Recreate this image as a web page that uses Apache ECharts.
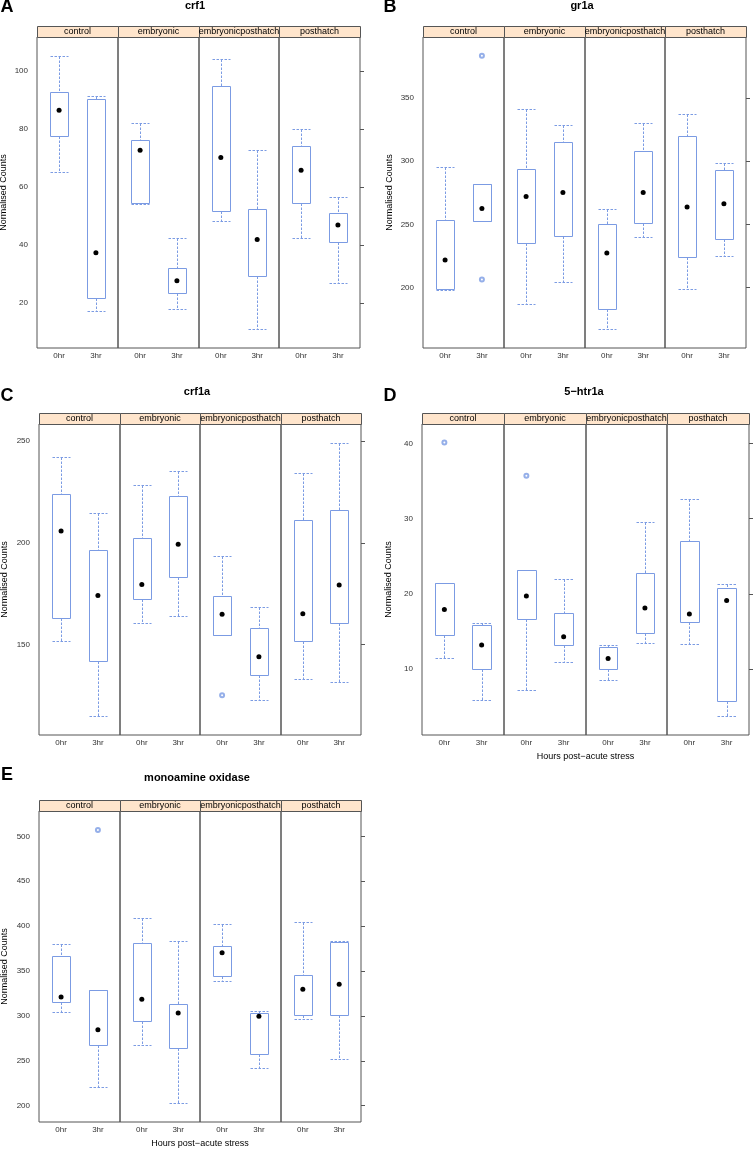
<!DOCTYPE html>
<html><head><meta charset="utf-8">
<script src="https://cdn.jsdelivr.net/npm/echarts@6/dist/echarts.min.js"></script>
<style>html,body{margin:0;padding:0;background:#fff}#c{width:754px;height:1150px}</style>
</head><body><div id="c"></div>
<script>
// ---------- data ----------
const groups = ['control', 'embryonic', 'embryonicposthatch', 'posthatch'];
const times = ['0hr', '3hr'];
// rows: [lower whisker, Q1, median, Q3, upper whisker]
// order: control 0hr, control 3hr, embryonic 0hr, embryonic 3hr,
//        embryonicposthatch 0hr, embryonicposthatch 3hr, posthatch 0hr, posthatch 3hr
const crf1 = [
  [65.0, 77.7, 86.4, 92.8, 105.1],
  [17.0, 21.6, 37.3, 90.4, 91.5],
  [54.0, 54.3, 72.6, 76.1, 81.9],
  [17.7, 23.3, 27.6, 31.9, 42.2],
  [48.3, 51.6, 70.1, 94.8, 104.0],
  [10.9, 29.1, 41.8, 52.2, 72.6],
  [42.2, 54.4, 65.7, 74.1, 79.9],
  [26.7, 40.9, 46.8, 51.0, 56.5]
];
const crf1Outliers = [];
const gr1a = [
  [198.4, 198.8, 221.9, 253.8, 295.2],
  [252.5, 252.5, 262.5, 281.7, 281.7],
  [186.9, 235.3, 272.0, 293.6, 341.1],
  [204.8, 241.1, 275.1, 314.7, 328.1],
  [167.1, 182.9, 227.4, 250.1, 262.0],
  [239.8, 250.9, 275.1, 307.9, 329.7],
  [198.7, 224.0, 263.6, 319.7, 336.8],
  [224.9, 238.3, 266.2, 292.8, 298.6]
];
const gr1aOutliers = [[0, 1, 383.2], [0, 1, 206.4]]; // [group, time, value]
const crf1a = [
  [151.7, 163.0, 205.8, 223.8, 242.0],
  [114.8, 141.8, 174.1, 196.6, 214.5],
  [160.7, 172.3, 179.6, 202.5, 228.4],
  [163.9, 183.1, 199.3, 222.8, 235.1],
  [154.6, 154.6, 164.9, 173.8, 193.5],
  [122.9, 135.0, 144.1, 158.0, 168.5],
  [133.2, 152.0, 165.2, 211.1, 234.3],
  [131.6, 160.5, 179.3, 216.0, 249.0]
];
const crf1aOutliers = [[2, 0, 125.2]];
const htr1a = [
  [11.4, 14.5, 17.9, 21.4, 21.4],
  [5.9, 10.0, 13.2, 15.9, 16.1],
  [7.2, 16.7, 19.7, 23.2, 23.2],
  [10.9, 13.2, 14.3, 17.5, 22.0],
  [8.6, 10.0, 11.4, 12.9, 13.2],
  [13.5, 14.8, 18.1, 22.8, 29.5],
  [13.3, 16.2, 17.3, 27.0, 32.6],
  [3.7, 5.7, 19.1, 20.8, 21.3]
];
const htr1aOutliers = [[0, 0, 40.1], [1, 0, 35.7]];
const mao = [
  [304.7, 315.1, 321.0, 367.0, 380.4],
  [220.5, 267.6, 284.6, 329.2, 329.2],
  [267.9, 294.7, 318.5, 380.8, 408.7],
  [202.7, 263.9, 303.2, 312.9, 383.1],
  [338.9, 344.8, 370.4, 377.8, 402.7],
  [242.3, 257.2, 299.6, 303.2, 305.8],
  [296.5, 301.0, 329.6, 345.9, 404.2],
  [251.7, 300.7, 335.2, 382.6, 383.4]
];
const maoOutliers = [[0, 1, 507.0]];

const ticksA = [20, 40, 60, 80, 100];
const ticksB = [200, 250, 300, 350];
const ticksC = [150, 200, 250];
const ticksD = [10, 20, 30, 40];
const ticksE = [200, 250, 300, 350, 400, 450, 500];

const titles = ['crf1', 'gr1a', 'crf1a', '5\u2212htr1a', 'monoamine oxidase'];
const letters = ['A', 'B', 'C', 'D', 'E'];
const yTitle = 'Normalised Counts';
const xTitle = 'Hours post\u2212acute stress';

// ---------- layout ----------
const panels = [
  {stats: crf1, out: crf1Outliers, ticks: ticksA, L: 37, R: 360, sT: 26, pT: 37, pB: 348, yMin: 4.4, yMax: 111.7,
   titleX: 195, titleY: 6, letX: 7, letY: 7, yNameX: 4, xName: false},
  {stats: gr1a, out: gr1aOutliers, ticks: ticksB, L: 423, R: 746, sT: 26, pT: 37, pB: 348, yMin: 152.3, yMax: 398,
   titleX: 582, titleY: 6, letX: 390, letY: 7, yNameX: 390, xName: false},
  {stats: crf1a, out: crf1aOutliers, ticks: ticksC, L: 39, R: 361, sT: 413, pT: 424, pB: 735, yMin: 105.7, yMax: 258.3,
   titleX: 197, titleY: 392, letX: 7, letY: 396, yNameX: 5, xName: false},
  {stats: htr1a, out: htr1aOutliers, ticks: ticksD, L: 422, R: 749, sT: 413, pT: 424, pB: 735, yMin: 1.23, yMax: 42.57,
   titleX: 584, titleY: 392, letX: 390, letY: 396, yNameX: 389, xName: true, xNameY: 757},
  {stats: mao, out: maoOutliers, ticks: ticksE, L: 39, R: 361, sT: 800, pT: 811, pB: 1122, yMin: 181.8, yMax: 528.2,
   titleX: 197, titleY: 778, letX: 7, letY: 775, yNameX: 5, xName: true, xNameY: 1144}
];

const FONT = '"Liberation Sans", Arial, Helvetica, sans-serif';
const BLUE = '#7b9be3';
const FRAME = '#555';

function renderBox(params, api) {
  const x = api.value(0);
  const p = k => api.coord([x, api.value(k)]);
  const lo = p(1), q1 = p(2), md = p(3), q3 = p(4), hi = p(5);
  const half = api.size([0.5, 0])[0] / 2;
  const snap = v => Math.round(v) + 0.5;
  const cx = snap(md[0]);
  const xl = snap(md[0] - half), xr = snap(md[0] + half);
  const yLo = snap(lo[1]), yQ1 = snap(q1[1]), yQ3 = snap(q3[1]), yHi = snap(hi[1]);
  const dash = {stroke: BLUE, lineWidth: 1, lineDash: [2.5, 1.5], fill: null};
  const children = [];
  if (yHi < yQ3) children.push({type: 'line', shape: {x1: cx, y1: yHi, x2: cx, y2: yQ3}, style: dash});
  if (yLo > yQ1) children.push({type: 'line', shape: {x1: cx, y1: yQ1, x2: cx, y2: yLo}, style: dash});
  children.push({type: 'line', shape: {x1: xl, y1: yHi, x2: xr, y2: yHi}, style: dash});
  children.push({type: 'line', shape: {x1: xl, y1: yLo, x2: xr, y2: yLo}, style: dash});
  children.push({type: 'rect', shape: {x: xl, y: yQ3, width: xr - xl, height: yQ1 - yQ3},
    style: {stroke: BLUE, lineWidth: 1, fill: null}});
  children.push({type: 'circle', shape: {cx: md[0], cy: md[1], r: 2.5}, style: {fill: '#000'}});
  return {type: 'group', children: children};
}

const grid = [], xAxis = [], yAxis = [], series = [], graphic = [];
panels.forEach((P, pi) => {
  const w = (P.R - P.L) / 4;
  groups.forEach((g, gi) => {
    const idx = pi * 4 + gi;
    const left = Math.round(P.L + gi * w);
    const right = Math.round(P.L + (gi + 1) * w);
    grid.push({left: left, top: P.pT, width: right - left, height: P.pB - P.pT,
      show: true, borderColor: FRAME, borderWidth: 1, backgroundColor: 'transparent'});
    xAxis.push({type: 'value', gridIndex: idx, min: 0.4, max: 2.6,
      axisLine: {show: false}, axisTick: {show: false}, splitLine: {show: false},
      axisLabel: {customValues: [1, 2], formatter: v => times[Math.round(v) - 1],
        fontSize: 8, color: '#333', margin: 4, fontFamily: FONT}});
    const isFirst = gi === 0, isLast = gi === 3;
    yAxis.push({type: 'value', gridIndex: idx, min: P.yMin, max: P.yMax,
      position: isLast ? 'right' : 'left',
      axisLine: {show: false}, splitLine: {show: false},
      axisTick: {show: isLast, customValues: P.ticks, length: 4, inside: false, lineStyle: {color: FRAME}},
      axisLabel: {show: isFirst, customValues: P.ticks, fontSize: 8, color: '#333', margin: 9, fontFamily: FONT}});
    const data = [];
    times.forEach((t, ti) => {
      const s = P.stats[gi * 2 + ti];
      data.push([ti + 1, s[0], s[1], s[2], s[3], s[4]]);
    });
    series.push({type: 'custom', xAxisIndex: idx, yAxisIndex: idx, renderItem: renderBox,
      encode: {x: 0, y: [1, 2, 3, 4, 5]}, data: data, silent: true});
    const od = P.out.filter(o => o[0] === gi).map(o => [o[1] + 1, o[2]]);
    if (od.length) {
      series.push({type: 'scatter', xAxisIndex: idx, yAxisIndex: idx, data: od, symbol: 'emptyCircle',
        symbolSize: 4, itemStyle: {color: BLUE, borderWidth: 1}, silent: true});
    }
    // strip header
    graphic.push({type: 'rect', shape: {x: left + 0.5, y: P.sT + 0.5, width: right - left, height: P.pT - P.sT},
      style: {fill: '#ffe5cc', stroke: FRAME, lineWidth: 1}, z: 10});
    graphic.push({type: 'text', x: (left + right) / 2, y: (P.sT + P.pT) / 2 + 0.5,
      style: {text: g, fontSize: 9, fontFamily: FONT, fill: '#000', align: 'center', verticalAlign: 'middle'}, z: 11});
  });
  // titles, letters, axis names
  graphic.push({type: 'text', x: P.titleX, y: P.titleY,
    style: {text: titles[pi], fontSize: 11, fontWeight: 'bold', fontFamily: FONT, fill: '#000', align: 'center', verticalAlign: 'middle'}});
  graphic.push({type: 'text', x: P.letX, y: P.letY,
    style: {text: letters[pi], fontSize: 18, fontWeight: 'bold', fontFamily: FONT, fill: '#000', align: 'center', verticalAlign: 'middle'}});
  graphic.push({type: 'text', x: P.yNameX, y: (P.pT + P.pB) / 2, rotation: Math.PI / 2,
    style: {text: yTitle, fontSize: 9, fontFamily: FONT, fill: '#000', align: 'center', verticalAlign: 'middle'}});
  if (P.xName) {
    graphic.push({type: 'text', x: (P.L + P.R) / 2, y: P.xNameY,
      style: {text: xTitle, fontSize: 9, fontFamily: FONT, fill: '#000', align: 'center', verticalAlign: 'middle'}});
  }
});

const chart = echarts.init(document.getElementById('c'), null, {renderer: 'canvas'});
chart.setOption({animation: false, backgroundColor: '#fff', grid, xAxis, yAxis, series, graphic});
</script>
</body></html>
